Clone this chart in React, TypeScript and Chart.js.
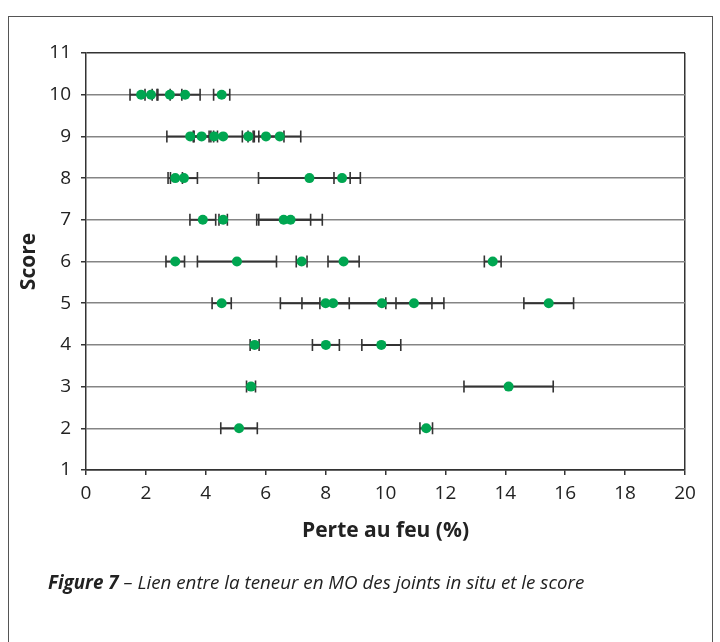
import React, { useEffect, useRef } from "react";
import { Chart, registerables } from "chart.js";

Chart.register(...registerables);

// Score (y) of each measured joint
const pointScore = [
  10, 10, 10, 10, 10,
  9, 9, 9, 9, 9, 9, 9,
  8, 8, 8, 8,
  7, 7, 7, 7,
  6, 6, 6, 6, 6,
  5, 5, 5, 5, 5, 5,
  4, 4, 4,
  3, 3,
  2, 2,
];
// Perte au feu (%) mean value
const pointLoss = [
  1.84, 2.17, 2.8, 3.31, 4.53,
  3.48, 3.86, 4.28, 4.58, 5.42, 6.01, 6.47,
  2.98, 3.27, 7.46, 8.55,
  3.9, 4.58, 6.6, 6.83,
  2.98, 5.04, 7.2, 8.6, 13.58,
  4.53, 8.0, 8.25, 9.88, 10.95, 15.45,
  5.63, 8.01, 9.86,
  5.51, 14.11,
  5.11, 11.36,
];
// Half-width of the horizontal error bar (%)
const pointError = [
  0.37, 0.2, 0.4, 0.5, 0.27,
  0.78, 0.25, 0.11, 1.0, 0.2, 0.6, 0.7,
  0.24, 0.45, 1.7, 0.27,
  0.43, 0.14, 0.9, 1.06,
  0.31, 1.32, 0.18, 0.52, 0.28,
  0.32, 0.79, 1.76, 2.07, 0.6, 0.83,
  0.15, 0.45, 0.65,
  0.15, 1.49,
  0.61, 0.21,
];

const xTicks = [0, 2, 4, 6, 8, 10, 12, 14, 16, 18, 20];
const yTicks = [1, 2, 3, 4, 5, 6, 7, 8, 9, 10, 11];

const xTitle = "Perte au feu (%)";
const yTitle = "Score";
const captionBold = "Figure 7";
const captionText = " – Lien entre la teneur en MO des joints in situ et le score";

const errorBarPlugin = {
  id: "errorBars",
  beforeDatasetsDraw(chart: any) {
    const xs = chart.scales.x;
    const ys = chart.scales.y;
    const ctx = chart.ctx;
    ctx.save();
    ctx.strokeStyle = "#333333";
    chart.data.datasets.forEach((ds: any) => {
      ds.data.forEach((p: any) => {
        const x1 = xs.getPixelForValue(p.x - p.err);
        const x2 = xs.getPixelForValue(p.x + p.err);
        const y = ys.getPixelForValue(p.y);
        ctx.lineWidth = 2;
        ctx.beginPath();
        ctx.moveTo(x1, y);
        ctx.lineTo(x2, y);
        ctx.stroke();
        ctx.lineWidth = 1.6;
        ctx.beginPath();
        ctx.moveTo(x1, y - 6);
        ctx.lineTo(x1, y + 6);
        ctx.moveTo(x2, y - 6);
        ctx.lineTo(x2, y + 6);
        ctx.stroke();
      });
    });
    ctx.restore();
  },
};

export default function App() {
  const canvasRef = useRef<HTMLCanvasElement | null>(null);

  useEffect(() => {
    if (!canvasRef.current) return;
    const data = pointLoss.map((v, i) => ({ x: v, y: pointScore[i], err: pointError[i] }));
    const chart = new Chart(canvasRef.current, {
      type: "scatter",
      data: {
        datasets: [
          {
            data,
            backgroundColor: "#00a651",
            borderWidth: 0,
            pointRadius: 5,
            pointHoverRadius: 5,
          },
        ],
      },
      options: {
        animation: false,
        responsive: false,
        events: [],
        layout: { padding: { left: 0, right: 35, top: 53, bottom: 94 } },
        plugins: { legend: { display: false }, tooltip: { enabled: false } },
        scales: {
          x: {
            type: "linear",
            min: 0,
            max: 20,
            afterFit: (s: any) => {
              s.height = 78;
            },
            afterBuildTicks: (s: any) => {
              s.ticks = xTicks.map((v) => ({ value: v }));
            },
            ticks: {
              color: "#222",
              padding: 7,
              maxRotation: 0,
              font: { family: "'Open Sans'", size: 19 },
            },
            grid: {
              color: (c: any) => (c.tick && c.tick.value === 20 ? "#333" : "rgba(0,0,0,0)"),
              lineWidth: 1.5,
              tickColor: "#333",
              tickLength: 5,
              tickWidth: 1.5,
            },
            border: { color: "#333", width: 1.5 },
            title: {
              display: true,
              text: xTitle,
              color: "#222",
              font: { family: "'Open Sans'", size: 21, weight: "bold" },
              padding: { top: 4, bottom: 4 },
            },
          },
          y: {
            type: "linear",
            min: 1,
            max: 11,
            afterFit: (s: any) => {
              s.width = 86;
            },
            afterBuildTicks: (s: any) => {
              s.ticks = yTicks.map((v) => ({ value: v }));
            },
            ticks: {
              color: "#222",
              padding: 10,
              font: { family: "'Open Sans'", size: 19 },
            },
            grid: {
              color: (c: any) => (c.tick && (c.tick.value === 11 || c.tick.value === 1) ? "#333" : "#858585"),
              lineWidth: 1.5,
              tickColor: "#333",
              tickLength: 5,
              tickWidth: 1.5,
            },
            border: { color: "#333", width: 1.5 },
            title: {
              display: true,
              text: yTitle,
              color: "#222",
              font: { family: "'Open Sans'", size: 21, weight: "bold" },
              padding: { top: 16, bottom: 4 },
            },
          },
        },
      },
      plugins: [errorBarPlugin],
    } as any);
    return () => chart.destroy();
  }, []);

  return (
    <div style={{ position: "absolute", left: 0, top: 0, width: 720, height: 642, overflow: "hidden", background: "#fff" }}>
      <div
        style={{
          position: "absolute",
          left: 8,
          top: 16,
          width: 705,
          height: 700,
          border: "1px solid #555",
          boxSizing: "border-box",
        }}
      />
      <canvas ref={canvasRef} width={720} height={642} style={{ position: "absolute", left: 0, top: 0, display: "block" }} />
      <div
        style={{
          position: "absolute",
          left: 48,
          top: 568,
          fontFamily: "'Open Sans'",
          fontStyle: "italic",
          fontSize: 18.8,
          color: "#222",
          whiteSpace: "nowrap",
          lineHeight: "28px",
        }}
      >
        <span style={{ fontWeight: "bold" }}>{captionBold}</span>
        {captionText}
      </div>
    </div>
  );
}
